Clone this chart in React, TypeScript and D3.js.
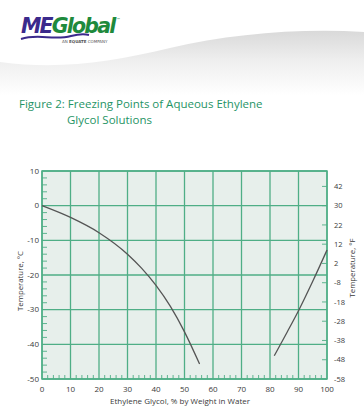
import React from 'react';
import * as d3 from 'd3';

// freezing curve (% glycol by weight, °C)
const leftPct = [0, 10, 20, 30, 35, 40, 45, 50, 55.3];
const leftTemp = [0, -3.4, -7.8, -14, -18.1, -23, -29, -36.4, -45.7];
const rightPct = [81.5, 86, 90, 95, 100];
const rightTemp = [-43.3, -36.5, -30.3, -21.8, -12.8];

const xTicks = [0, 10, 20, 30, 40, 50, 60, 70, 80, 90, 100];
const cTicks = [10, 0, -10, -20, -30, -40, -50];
const fTicks = [42, 32, 22, 12, 2, -8, -18, -28, -38, -48, -58];
const fLabels = ['42', '30', '22', '12', '2', '-8', '-18', '-28', '-38', '-48', '-58'];

const W = 364;
const H = 411;
const margin = { top: 171, right: 37, bottom: 32, left: 42 };

const green = '#4fae86';
const textCol = '#3a3a3a';
const font = '"Open Sans", "DejaVu Sans", sans-serif';

const App: React.FC = () => {
  const x = d3.scaleLinear().domain([0, 100]).range([margin.left, W - margin.right]);
  const y = d3.scaleLinear().domain([-50, 10]).range([H - margin.bottom, margin.top]);
  const toC = (f: number) => ((f - 32) * 5) / 9;

  const line = d3
    .line<[number, number]>()
    .x(d => x(d[0]))
    .y(d => y(d[1]))
    .curve(d3.curveMonotoneX);

  const leftData = leftPct.map((p, i) => [p, leftTemp[i]] as [number, number]);
  const rightData = rightPct.map((p, i) => [p, rightTemp[i]] as [number, number]);

  const minorC = d3.range(-50, 10, 2).filter(v => v % 10 !== 0);
  const minorX = d3.range(0, 100, 2).filter(v => v % 10 !== 0);

  const x0 = x(0);
  const x1 = x(100);
  const yTop = y(10);
  const yBot = y(-50);

  return (
    <svg
      width={W}
      height={H}
      style={{ position: 'fixed', left: 0, top: 0, background: '#fff', fontFamily: font }}
    >
      <defs>
        <linearGradient id="hdr" x1="0" y1="0" x2="0" y2="1">
          <stop offset="0" stopColor="#d9d9d9" />
          <stop offset="0.45" stopColor="#eeeeee" />
          <stop offset="1" stopColor="#ffffff" />
        </linearGradient>
      </defs>

      {/* header wave */}
      <path
        d="M0,62 C60,70 110,62 170,48 C230,34 300,28 364,32 L364,95 L0,95 Z"
        fill="url(#hdr)"
      />

      {/* logo */}
      <g transform="translate(21,33)">
        <text
          fontFamily='"DejaVu Sans", sans-serif'
          fontStyle="italic"
          fontWeight="bold"
          fontSize={20.5}
          letterSpacing={-1.8}
        >
          <tspan fill="#3b2a8c">ME</tspan>
          <tspan fill="#1e8a3c">Global</tspan>
          <tspan fill="#1e8a3c" fontSize={4} fontWeight="normal" dx={2} dy={-12} letterSpacing={0}>™</tspan>
        </text>
        <path d="M0,6 C18,0 32,8 50,3 C58,1 64,1 68,2" fill="none" stroke="#3b2a8c" strokeWidth={2} />
        <text x={41} y={9.5} fontSize={4} fill="#555" fontFamily='"DejaVu Sans", sans-serif'>
          AN <tspan fontWeight="bold">EQUATE</tspan> COMPANY
        </text>
      </g>

      {/* title */}
      <text fill="#1f9466" fontSize={11.5} fontFamily='"Open Sans", sans-serif'>
        <tspan x={19} y={108}>Figure 2: Freezing Points of Aqueous Ethylene</tspan>
        <tspan x={67} y={124}>Glycol Solutions</tspan>
      </text>

      {/* plot background */}
      <rect x={x0} y={yTop} width={x1 - x0} height={yBot - yTop} fill="#e7efeb" />

      {/* grid */}
      {xTicks.map(t => (
        <line key={'gx' + t} x1={x(t)} x2={x(t)} y1={yTop} y2={yBot} stroke={green} strokeWidth={1.3} />
      ))}
      {cTicks.map(t => (
        <line key={'gy' + t} x1={x0} x2={x1} y1={y(t)} y2={y(t)} stroke={green} strokeWidth={1.3} />
      ))}

      {/* minor ticks */}
      {minorC.map(t => (
        <line key={'mc' + t} x1={x0} x2={x0 + 5} y1={y(t)} y2={y(t)} stroke={green} strokeWidth={0.9} />
      ))}
      {minorX.map(t => (
        <line key={'mx' + t} x1={x(t)} x2={x(t)} y1={yBot} y2={yBot - 4} stroke={green} strokeWidth={0.9} />
      ))}
      {fTicks.map(f => (
        <line key={'ft' + f} x1={x1} x2={x1 - 5} y1={y(toC(f))} y2={y(toC(f))} stroke={green} strokeWidth={0.9} />
      ))}

      {/* border */}
      <rect x={x0} y={yTop} width={x1 - x0} height={yBot - yTop} fill="none" stroke={green} strokeWidth={1.5} />

      {/* curves */}
      <path d={line(leftData) || ''} fill="none" stroke="#555" strokeWidth={1.3} />
      <path d={line(rightData) || ''} fill="none" stroke="#555" strokeWidth={1.3} />

      {/* left axis labels */}
      {cTicks.map(t => (
        <text key={'cl' + t} x={x0 - 3} y={y(t)} dy="0.35em" textAnchor="end" fontSize={8} fill={textCol}>
          {t}
        </text>
      ))}
      {/* right axis labels */}
      {fTicks.map((f, i) => (
        <text key={'fl' + f} x={x1 + 7} y={y(toC(f))} dy="0.35em" textAnchor="start" fontSize={7.5} fill={textCol}>
          {fLabels[i]}
        </text>
      ))}
      {/* bottom labels */}
      {xTicks.map(t => (
        <text key={'xl' + t} x={x(t)} y={yBot + 13} textAnchor="middle" fontSize={8} fill={textCol}>
          {t}
        </text>
      ))}

      <text x={180} y={404} textAnchor="middle" fontSize={8} fill={textCol}>
        Ethylene Glycol, % by Weight in Water
      </text>
      <text
        transform={`translate(23,281) rotate(-90)`}
        textAnchor="middle"
        fontSize={7.8}
        fill={textCol}
      >
        Temperature, °C
      </text>
      <text
        transform={`translate(355,268) rotate(-90)`}
        textAnchor="middle"
        fontSize={7.8}
        fill={textCol}
      >
        Temperature, °F
      </text>
    </svg>
  );
};

export default App;
